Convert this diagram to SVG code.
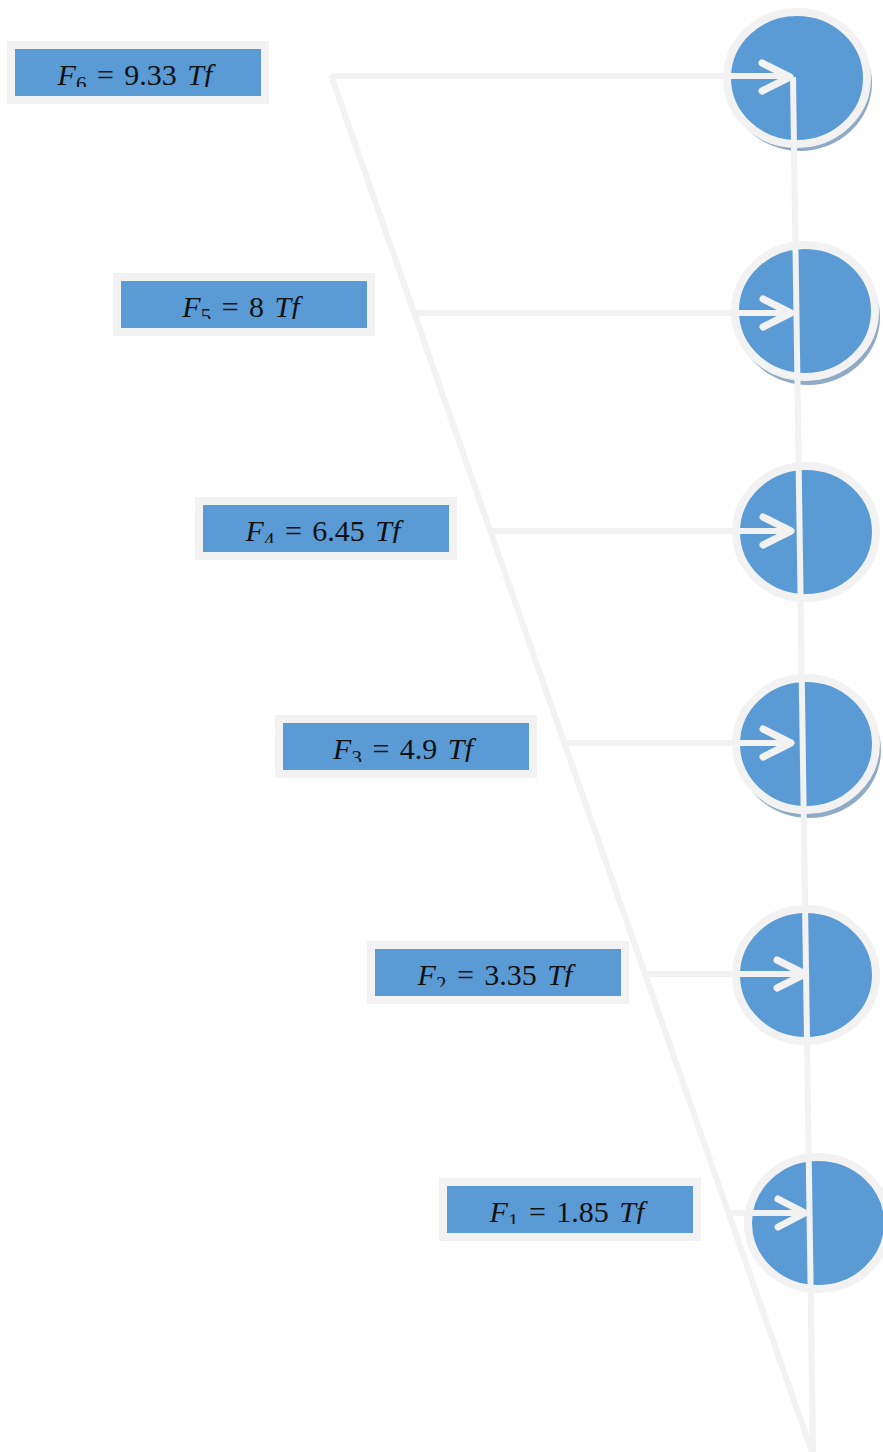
<svg xmlns="http://www.w3.org/2000/svg" width="883" height="1452" viewBox="0 0 883 1452">
<style>
.box{fill:#5b9bd5;stroke:#f2f2f2;stroke-width:8}
.lbl{font-family:"Liberation Serif","DejaVu Serif",serif;font-size:30px;fill:#111;text-anchor:middle;word-spacing:3px}
.it{font-style:italic}
.sub{font-size:21px;font-style:normal}
.node{fill:#5b9bd5;stroke:#f2f2f2;stroke-width:8}
.shadow{fill:#8eaac6}
.ln{fill:none;stroke:#f2f2f2;stroke-width:6}
.arr{fill:none;stroke:#f2f2f2;stroke-width:7;stroke-linecap:round;stroke-linejoin:round}
</style>
<defs>
<clipPath id="c1" clipPathUnits="userSpaceOnUse"><rect x="0" y="40" width="300" height="47"/></clipPath>
<clipPath id="c2" clipPathUnits="userSpaceOnUse"><rect x="100" y="270" width="300" height="49"/></clipPath>
<clipPath id="c3" clipPathUnits="userSpaceOnUse"><rect x="190" y="495" width="300" height="48"/></clipPath>
<clipPath id="c4" clipPathUnits="userSpaceOnUse"><rect x="270" y="710" width="300" height="52"/></clipPath>
<clipPath id="c5" clipPathUnits="userSpaceOnUse"><rect x="360" y="940" width="300" height="47"/></clipPath>
<clipPath id="c6" clipPathUnits="userSpaceOnUse"><rect x="430" y="1175" width="300" height="49"/></clipPath>
</defs>
<rect width="883" height="1452" fill="#ffffff"/>

<g id="nodes">
<g id="n6"><ellipse class="shadow" cx="800" cy="83" rx="72" ry="68"/><ellipse class="node" cx="797" cy="78" rx="70" ry="66"/></g>
<g id="n5"><ellipse class="shadow" cx="808" cy="317" rx="72" ry="68"/><ellipse class="node" cx="805" cy="311" rx="70" ry="66"/></g>
<g id="n4"><ellipse class="node" cx="806" cy="532" rx="70" ry="66"/></g>
<g id="n3"><ellipse class="shadow" cx="809" cy="750" rx="72" ry="68"/><ellipse class="node" cx="806" cy="744" rx="70" ry="66"/></g>
<g id="n2"><ellipse class="node" cx="806" cy="975" rx="70" ry="66"/></g>
<g id="n1"><ellipse class="node" cx="818" cy="1223" rx="70" ry="66"/></g>
</g>

<g id="labels">
<g id="l6"><rect class="box" x="11" y="45" width="254" height="55"/>
<text class="lbl" x="135" y="85" clip-path="url(#c1)"><tspan class="it">F</tspan><tspan class="sub" dy="6">6</tspan><tspan dy="-6"> = 9.33 </tspan><tspan class="it">Tf</tspan></text></g>
<g id="l5"><rect class="box" x="117" y="277" width="254" height="55"/>
<text class="lbl" x="241" y="317" clip-path="url(#c2)"><tspan class="it">F</tspan><tspan class="sub" dy="6">5</tspan><tspan dy="-6"> = 8 </tspan><tspan class="it">Tf</tspan></text></g>
<g id="l4"><rect class="box" x="199" y="501" width="254" height="55"/>
<text class="lbl" x="323" y="541" clip-path="url(#c3)"><tspan class="it">F</tspan><tspan class="sub" dy="6">4</tspan><tspan dy="-6"> = 6.45 </tspan><tspan class="it">Tf</tspan></text></g>
<g id="l3"><rect class="box" x="279" y="719" width="254" height="55"/>
<text class="lbl" x="403" y="759" clip-path="url(#c4)"><tspan class="it">F</tspan><tspan class="sub" dy="6">3</tspan><tspan dy="-6"> = 4.9 </tspan><tspan class="it">Tf</tspan></text></g>
<g id="l2"><rect class="box" x="371" y="945" width="254" height="55"/>
<text class="lbl" x="495" y="985" clip-path="url(#c5)"><tspan class="it">F</tspan><tspan class="sub" dy="6">2</tspan><tspan dy="-6"> = 3.35 </tspan><tspan class="it">Tf</tspan></text></g>
<g id="l1"><rect class="box" x="443" y="1182" width="254" height="55"/>
<text class="lbl" x="567" y="1222" clip-path="url(#c6)"><tspan class="it">F</tspan><tspan class="sub" dy="6">1</tspan><tspan dy="-6"> = 1.85 </tspan><tspan class="it">Tf</tspan></text></g>
</g>

<g id="connectors">
<line class="ln" x1="331" y1="75" x2="812" y2="1452"/>
<line class="ln" x1="793" y1="77" x2="813" y2="1452"/>
<line class="ln" x1="331" y1="76" x2="790" y2="76"/>
<line class="ln" x1="416" y1="313" x2="792" y2="313"/>
<line class="ln" x1="491" y1="531" x2="793" y2="531"/>
<line class="ln" x1="565" y1="743" x2="793" y2="743"/>
<line class="ln" x1="646" y1="974" x2="806" y2="974"/>
<line class="ln" x1="729" y1="1213" x2="805" y2="1213"/>
<polyline class="arr" points="762,63 790,77 762,91"/>
<polyline class="arr" points="763,299 791,313 763,327"/>
<polyline class="arr" points="763,517 791,531 763,545"/>
<polyline class="arr" points="763,729 791,743 763,757"/>
<polyline class="arr" points="777,960 805,974 777,988"/>
<polyline class="arr" points="778,1199 805,1213 778,1227"/>
</g>
</svg>
